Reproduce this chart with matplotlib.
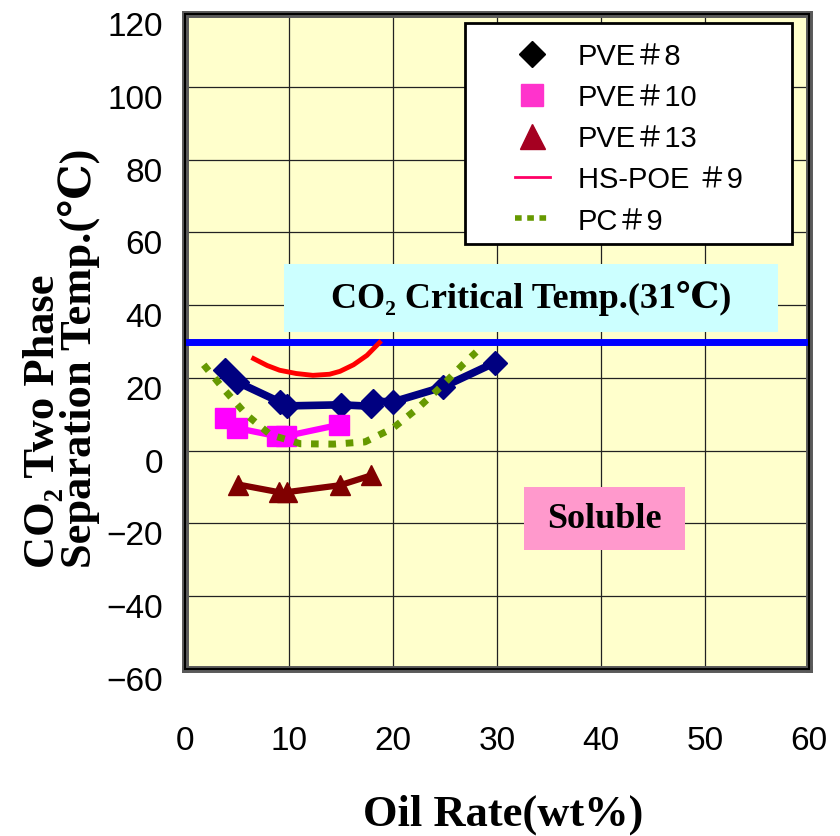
import matplotlib
matplotlib.use("Agg")
import matplotlib.pyplot as plt
from matplotlib.lines import Line2D
from matplotlib.patches import Rectangle
from matplotlib.transforms import ScaledTranslation

# data
pve8_x = [3.8, 5.0, 9.1, 9.8, 15.0, 17.9, 18.1, 20.0, 24.8, 29.8]
pve8_y = [22.3, 18.9, 13.4, 12.3, 12.6, 12.2, 13.6, 13.4, 17.5, 24.2]

pve10_x = [3.8, 5.0, 8.8, 9.7, 14.8]
pve10_y = [9.0, 6.2, 4.0, 4.0, 7.1]

pve13_x = [5.1, 9.0, 9.8, 14.9, 17.9]
pve13_y = [-9.3, -11.4, -11.4, -9.5, -6.8]

hspoe9_x = [6.6, 7.9, 9.1, 10.7, 12.3, 13.9, 14.9, 16.2, 17.5, 18.7]
hspoe9_y = [25.3, 23.4, 22.1, 21.2, 20.7, 21.0, 21.8, 23.6, 26.2, 29.7]

pc9_x = [1.8, 3.7, 5.9, 8.2, 11.1, 14.3, 17.3, 20.0, 22.4, 24.7, 26.8, 28.0]
pc9_y = [23.6, 17.0, 9.9, 4.4, 1.9, 1.8, 2.4, 6.2, 11.7, 17.8, 23.9, 27.1]

crit_temp = 30
series_labels = ["PVE＃8", "PVE＃10", "PVE＃13", "HS-POE ＃9", "PC＃9"]

x_ticks = [0, 10, 20, 30, 40, 50, 60]
y_ticks = [-60, -40, -20, 0, 20, 40, 60, 80, 100, 120]

serif = ["Liberation Serif", "DejaVu Serif", "Noto Sans CJK JP"]
sans = ["Liberation Sans", "Noto Sans CJK JP", "DejaVu Sans"]

fig = plt.figure(figsize=(8.4, 8.37), dpi=100)
ax = fig.add_axes([185 / 840, 1 - 670 / 837, 624 / 840, 655 / 837])
ax.set_facecolor("#FFFFCC")
ax.set_xlim(0, 60)
ax.set_ylim(-60, 120)
ax.set_xticks(x_ticks)
ax.set_yticks(y_ticks)
ax.grid(True, color="#222222", linewidth=0.9, zorder=0)
ax.set_axisbelow(True)
ax.tick_params(length=0, labelsize=24)
ax.tick_params(axis="x", pad=40)
ax.tick_params(axis="y", pad=16)
for lab in ax.get_xticklabels() + ax.get_yticklabels():
    lab.set_family(sans)
for lab in ax.get_yticklabels():
    lab.set_transform(lab.get_transform() + ScaledTranslation(0, -0.09, fig.dpi_scale_trans))

for sp in ax.spines.values():
    sp.set_linewidth(5)
    sp.set_color("#5a5a5a")
ax.add_patch(Rectangle((0, 0), 1, 1, transform=ax.transAxes, fill=False,
                       edgecolor="black", linewidth=1.5, clip_on=False, zorder=6))

# annotation boxes
ax.add_patch(Rectangle((9.5, 32.7), 47.5, 18.7, facecolor="#CCFFFF",
                       edgecolor="none", zorder=1))
ax.text(33.3, 42, "CO₂ Critical Temp.(31℃)", ha="center", va="center",
        fontsize=26, fontweight="bold", family=serif, zorder=2)
ax.add_patch(Rectangle((32.6, -27.2), 15.5, 17.3, facecolor="#FF99CC",
                       edgecolor="none", zorder=1))
ax.text(40.3, -18.6, "Soluble", ha="center", va="center",
        fontsize=26, fontweight="bold", family=serif, zorder=2)

ax.axhline(crit_temp, color="#0000FF", linewidth=5, zorder=3)

ax.plot(pve8_x, pve8_y, color="#000080", linewidth=5.5, marker="D",
        markersize=12, zorder=4)
ax.plot(pve10_x, pve10_y, color="#FF00FF", linewidth=4.5, marker="s",
        markersize=14, zorder=4)
ax.plot(pve13_x, pve13_y, color="#800000", linewidth=4.5, marker="^",
        markersize=15, zorder=4)
ax.plot(hspoe9_x, hspoe9_y, color="#FF0000", linewidth=3.5, zorder=4)
ax.plot(pc9_x, pc9_y, color="#669900", linewidth=5, dashes=(1.1, 1.4),
        dash_capstyle="butt", zorder=5)

# legend box drawn by hand, legend entries placed inside it
ax.add_patch(Rectangle((0.449, 0.649), 0.524, 0.337, transform=ax.transAxes,
                       facecolor="white", edgecolor="black", linewidth=2, zorder=7))
handles = [
    Line2D([], [], linestyle="none", marker="D", color="black", markersize=13),
    Line2D([], [], linestyle="none", marker="s", color="#FF33CC", markersize=16),
    Line2D([], [], linestyle="none", marker="^", color="#A50021", markersize=18),
    Line2D([], [], color="#FF0066", linewidth=2),
    Line2D([], [], color="#669900", linewidth=4, dashes=(1.2, 1.0)),
]
leg = ax.legend(handles, series_labels, loc="upper left",
                bbox_to_anchor=(0.51, 0.975), frameon=False,
                prop={"family": sans, "size": 21}, handlelength=1.2,
                handletextpad=0.95, labelspacing=0.45, borderaxespad=0)
leg.set_zorder(8)

ax.set_xlabel("Oil Rate(wt%)", fontsize=32, fontweight="bold", family=serif)
ax.xaxis.set_label_coords(0.51, -0.19)
ax.set_ylabel("CO₂ Two Phase\nSeparation Temp.(℃)", fontsize=32,
              fontweight="bold", family=serif, multialignment="left",
              linespacing=0.85)
ax.yaxis.set_label_coords(-0.136, 0.476)

fig.savefig("out.png", dpi=100)
